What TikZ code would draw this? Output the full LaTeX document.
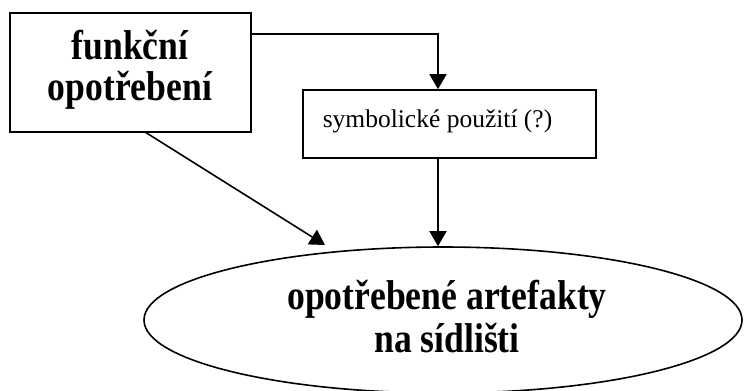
\documentclass[tikz,border=0pt]{standalone}
\usepackage{fontspec}
\setmainfont{Liberation Serif}
\usetikzlibrary{arrows.meta,shapes.geometric}
% tall bold lettering: two centred lines, bottom line on the baseline
\newcommand{\tallpair}[3]{\scalebox{1}[1.17]{\fontsize{35.6bp}{#3}\selectfont\bfseries
  \renewcommand{\arraystretch}{1}\begin{tabular}[b]{@{}c@{}}#1\\#2\end{tabular}}}
\begin{document}
\begin{tikzpicture}[x=1bp,y=-1bp,
  line width=1.6bp,
  frame/.style={draw, rectangle, inner sep=0pt},
  arr/.style={-{Triangle[length=15bp,width=17bp]}},
  lettering/.style={inner sep=0pt, anchor=base},
  small/.style={font=\fontsize{25.5bp}{30bp}\selectfont}
]
\useasboundingbox (0,0) rectangle (744,390);

% boxes and the ellipse
\node[frame, minimum width=241bp, minimum height=119bp] (func) at (130.5,72.5) {};
\node[lettering] (functext) at (130,100) {\tallpair{funkční}{opotřebení}{31.6bp}};

\node[frame, minimum width=293bp, minimum height=68bp] (sym) at (449.5,124) {};
\node[small, anchor=base west, inner sep=0pt] (symtext) at (322,127) {symbolické použití (?)};

\node[draw, ellipse, inner sep=0pt, minimum width=598bp, minimum height=146bp] (art) at (443,320) {};
\node[lettering] (arttext) at (447,352.7) {\tallpair{opotřebené artefakty}{na sídlišti}{36.8bp}};

% helper coordinates for the connectors
\coordinate (row) at (0,34);
\coordinate (col) at (438,0);
\coordinate (diagstart) at (145,132);
\coordinate (diagtip) at (325,245);

% connectors
\draw[arr] (func.east |- row) -- (col |- row) -- (sym.north -| col);
\draw[arr] (sym.south -| col) -- (art.north -| col);
\draw[arr] (diagstart) -- (diagtip);
\end{tikzpicture}
\end{document}
